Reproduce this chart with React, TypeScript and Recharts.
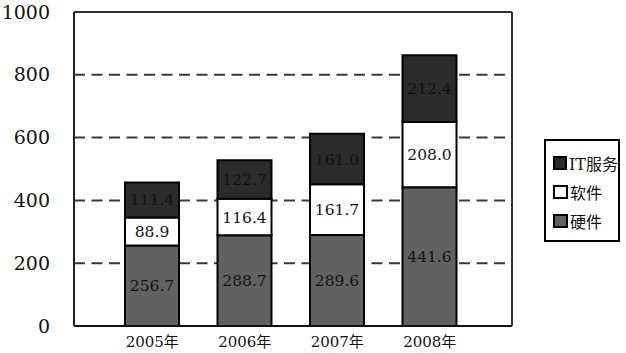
import React from "react";
import {
  BarChart,
  Bar,
  XAxis,
  YAxis,
  CartesianGrid,
  LabelList,
} from "recharts";

const categories = ["2005年", "2006年", "2007年", "2008年"];
const hardware = [256.7, 288.7, 289.6, 441.6];
const software = [88.9, 116.4, 161.7, 208.0];
const itService = [111.4, 122.7, 161.0, 212.4];
const yTicks = [0, 200, 400, 600, 800, 1000];

const seriesNames = { hw: "硬件", sw: "软件", it: "IT服务" };

const data = categories.map((c, i) => ({
  name: c,
  hw: hardware[i],
  sw: software[i],
  it: itService[i],
}));

const FONT = "'DejaVu Serif', 'Noto Sans CJK SC', serif";

const colors = { hw: "#616161", sw: "#ffffff", it: "#2b2b2b" };

const YTick = (props: any) => {
  const { y, payload } = props;
  return (
    <text
      x={50}
      y={y}
      dy={6.5}
      textAnchor="end"
      fontFamily={FONT}
      fontSize={19}
      fill="#111"
    >
      {payload.value}
    </text>
  );
};

const LegendBox = () => {
  const items = [
    { key: "it", label: seriesNames.it },
    { key: "sw", label: seriesNames.sw },
    { key: "hw", label: seriesNames.hw },
  ];
  return (
    <div
      style={{
        position: "absolute",
        left: 544,
        top: 139,
        width: 72,
        height: 92,
        border: "2px solid #000",
        background: "#fff",
        boxSizing: "content-box",
        paddingTop: 7,
        fontFamily: FONT,
      }}
    >
      {items.map((it) => (
        <div
          key={it.key}
          style={{
            display: "flex",
            alignItems: "center",
            height: 29,
            marginLeft: 7,
          }}
        >
          <div
            style={{
              width: 11,
              height: 10,
              border: "2px solid #000",
              background: (colors as any)[it.key],
              marginRight: 2,
            }}
          />
          <span style={{ fontSize: 16, color: "#111", whiteSpace: "nowrap" }}>
            {it.label}
          </span>
        </div>
      ))}
    </div>
  );
};

const labelStyle = { fontFamily: FONT, fontSize: 15.5, fill: "#111" };
const fmt = (v: any) => Number(v).toFixed(1);

export default function App() {
  return (
    <div
      style={{
        position: "absolute",
        left: 0,
        top: 0,
        width: 626,
        height: 353,
        background: "#fff",
      }}
    >
      <BarChart
        width={626}
        height={353}
        data={data}
        margin={{ top: 11, right: 113, bottom: 0, left: 0 }}
      >
        <CartesianGrid
          vertical={false}
          stroke="#3a3a3a"
          strokeWidth={2}
          strokeDasharray="11 6.5"
        />
        <XAxis
          dataKey="name"
          height={27}
          padding={{ left: 32, right: 36 }}
          tickLine={false}
          axisLine={{ stroke: "#111", strokeWidth: 2 }}
          tick={{ fontFamily: FONT, fontSize: 15, fill: "#111" }}
          tickMargin={4}
          interval={0}
        />
        <XAxis
          xAxisId="top"
          orientation="top"
          dataKey="name"
          height={1}
          tick={false}
          tickLine={false}
          axisLine={{ stroke: "#333", strokeWidth: 2 }}
        />
        <YAxis
          width={74}
          domain={[0, 1000]}
          ticks={yTicks}
          interval={0}
          tickLine={false}
          axisLine={{ stroke: "#222", strokeWidth: 2 }}
          tick={<YTick />}
        />
        <YAxis
          yAxisId="right"
          orientation="right"
          width={1}
          domain={[0, 1000]}
          tick={false}
          tickLine={false}
          axisLine={{ stroke: "#333", strokeWidth: 2 }}
        />
        <Bar
          dataKey="hw"
          name={seriesNames.hw}
          stackId="a"
          fill={colors.hw}
          stroke="#000"
          strokeWidth={2}
          barSize={54}
          isAnimationActive={false}
        >
          <LabelList dataKey="hw" position="center" formatter={fmt} style={labelStyle} />
        </Bar>
        <Bar
          dataKey="sw"
          name={seriesNames.sw}
          stackId="a"
          fill={colors.sw}
          stroke="#000"
          strokeWidth={2}
          barSize={54}
          isAnimationActive={false}
        >
          <LabelList dataKey="sw" position="center" formatter={fmt} style={labelStyle} />
        </Bar>
        <Bar
          dataKey="it"
          name={seriesNames.it}
          stackId="a"
          fill={colors.it}
          stroke="#000"
          strokeWidth={2}
          barSize={54}
          isAnimationActive={false}
        >
          <LabelList dataKey="it" position="center" formatter={fmt} style={labelStyle} />
        </Bar>
      </BarChart>
      <LegendBox />
    </div>
  );
}
